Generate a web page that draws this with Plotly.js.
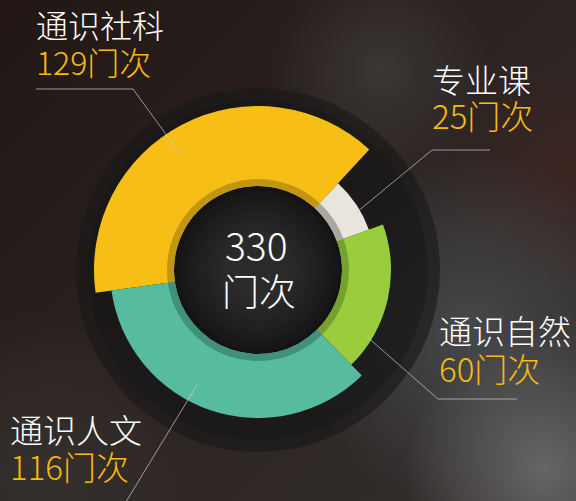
<!DOCTYPE html>
<html><head><meta charset="utf-8">
<script src="https://cdn.plot.ly/plotly-3.0.1.min.js"></script>
<style>
html,body{margin:0;padding:0;}
body{width:576px;height:501px;overflow:hidden;
background:
 radial-gradient(circle at 380px 70px, rgba(72,72,70,0.55) 0, rgba(72,72,70,0) 110px),
 radial-gradient(circle at 545px 470px, rgba(120,120,118,0.75) 0, rgba(120,120,118,0) 140px),
 radial-gradient(circle at 470px 330px, rgba(78,82,86,0.75) 0, rgba(78,82,86,0) 180px),
 radial-gradient(circle at 565px 170px, rgba(70,35,28,0.55) 0, rgba(70,35,28,0) 120px),
 radial-gradient(circle at 40px 470px, rgba(60,58,55,0.6) 0, rgba(60,58,55,0) 160px),
 linear-gradient(135deg, #221714 0%, #2a2220 45%, #34302f 100%);
}
#chart{width:576px;height:501px;}
</style></head><body><div id="chart"></div>
<script>
// ---- data ----
const categories = ['通识社科', '专业课', '通识自然', '通识人文'];
const courseCounts = [129, 25, 60, 116];
const countLabels = ['129门次', '25门次', '60门次', '116门次'];
const unitLabel = '门次';

// ---- styles ----
const sliceColors = ['#f7bf16', '#e9e4dc', '#9acd3e', '#57bb9f'];
const rimColors = ['#c29613', '#aaa6a0', '#76a030', '#419079'];
const outerRadius = [164, 118, 133, 148];

const W = 576, H = 501, cx = 258, cy = 270;
const innerR = 84, rimR = 91, ringR = 182;
const ROT = -98;

function dom(R) {
  return {x: [(cx - R) / W, (cx + R) / W], y: [1 - (cy + R) / H, 1 - (cy - R) / H]};
}
function px(x) { return x / W; }
function py(y) { return 1 - y / H; }

const traces = [];
categories.forEach((c, i) => {
  traces.push({
    type: 'pie', values: courseCounts, labels: categories, sort: false,
    direction: 'clockwise', rotation: ROT, hole: innerR / outerRadius[i],
    domain: dom(outerRadius[i]),
    marker: {colors: categories.map((_, j) => j === i ? sliceColors[i] : 'rgba(0,0,0,0)'), line: {width: 0}},
    textinfo: 'none', hoverinfo: 'skip', showlegend: false
  });
});
traces.push({
  type: 'pie', values: courseCounts, labels: categories, sort: false,
  direction: 'clockwise', rotation: ROT, hole: innerR / rimR,
  domain: dom(rimR),
  marker: {colors: rimColors, line: {width: 0}},
  textinfo: 'none', hoverinfo: 'skip', showlegend: false
});

function circle(r, color, layer) {
  return {type: 'circle', xref: 'paper', yref: 'paper', x0: px(cx - r), x1: px(cx + r),
    y0: py(cy + r), y1: py(cy - r), fillcolor: color, line: {width: 0}, layer: layer || 'below'};
}
function path(pts) {
  const d = pts.map((p, k) => (k ? 'L' : 'M') + px(p[0]) + ',' + py(p[1])).join(' ');
  return {type: 'path', xref: 'paper', yref: 'paper', path: d,
    line: {color: 'rgba(205,205,205,0.7)', width: 1}, layer: 'above'};
}

const shapes = [circle(ringR, 'rgba(24,24,24,0.62)'), circle(ringR - 12, 'rgba(20,20,20,0.35)')];
// smooth radial shading of the centre disc
const steps = 16;
for (let k = 0; k < steps; k++) {
  const r = innerR - k * (innerR - 30) / steps;
  const g = Math.round(19 + (42 - 19) * Math.pow(k / (steps - 1), 0.8));
  shapes.push(circle(r, 'rgb(' + g + ',' + g + ',' + g + ')'));
}
shapes.push(
  path([[36, 89], [133, 89], [181, 155]]),
  path([[490, 150], [432, 150], [357, 212]]),
  path([[517, 399], [438, 399], [365, 335]]),
  path([[197, 385], [124, 505]])
);

const labelPos = [
  {x: 34, y1: 24, y2: 61},
  {x: 430, y1: 79.5, y2: 115.5},
  {x: 437, y1: 330, y2: 368},
  {x: 8, y1: 429, y2: 466}
];
const font = 'Noto Sans CJK SC, Noto Sans, sans-serif';
const annotations = [];
categories.forEach((c, i) => {
  const p = labelPos[i];
  const size = i === 0 ? 32 : 33;
  const half = size * 0.724;
  const y1 = Math.max(p.y1, half + 1);
  annotations.push({text: c, xref: 'paper', yref: 'paper', x: px(p.x), y: py(y1),
    xanchor: 'left', yanchor: 'middle', showarrow: false,
    font: {family: font, size: size, color: '#ffffff', weight: 300}});
  annotations.push({text: countLabels[i], xref: 'paper', yref: 'paper', x: px(p.x), y: py(p.y2),
    xanchor: 'left', yanchor: 'middle', showarrow: false,
    font: {family: font, size: size, color: '#f6ba10', weight: 300}});
});
const total = courseCounts.reduce((a, b) => a + b, 0);
annotations.push({text: String(total), xref: 'paper', yref: 'paper', x: px(256), y: py(244),
  xanchor: 'center', yanchor: 'middle', showarrow: false,
  font: {family: font, size: 39, color: '#ffffff', weight: 300}});
annotations.push({text: unitLabel, xref: 'paper', yref: 'paper', x: px(259), y: py(289.5),
  xanchor: 'center', yanchor: 'middle', showarrow: false,
  font: {family: font, size: 37, color: '#ffffff', weight: 300}});

Plotly.newPlot('chart', traces, {
  width: W, height: H, margin: {l: 0, r: 0, t: 0, b: 0},
  paper_bgcolor: 'rgba(0,0,0,0)', plot_bgcolor: 'rgba(0,0,0,0)',
  shapes: shapes, annotations: annotations, showlegend: false
}, {displayModeBar: false, staticPlot: true});
</script></body></html>
